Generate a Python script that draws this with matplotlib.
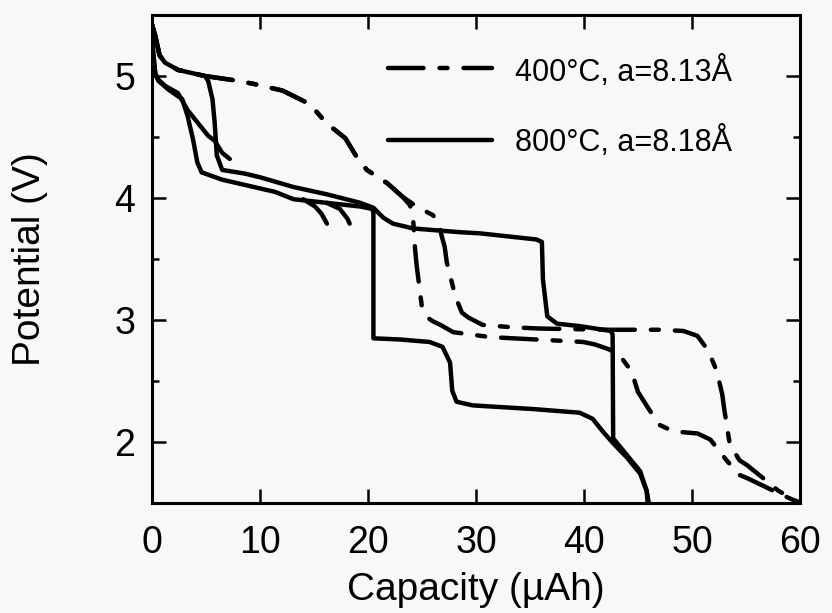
import numpy as np
import matplotlib
matplotlib.use("Agg")
import matplotlib.pyplot as plt
from matplotlib.ticker import MultipleLocator

plt.rcParams['font.family'] = ['Liberation Sans', 'DejaVu Sans']

# 400 C sample (dash-dot), two branches sharing the first part
d1_x = [0, 0.3, 0.7, 1.2, 2.4, 4.9, 8.0, 9.7, 12.1, 14.6, 16.2, 17.9, 19.0, 19.9, 21.8,
        23.2, 24.5, 26.0, 26.5, 26.85, 27.1, 27.3, 28.1, 28.7, 29.3, 30.6, 33.4, 35.9,
        42.4, 47.0, 49.2, 50.5, 51.5, 52.3, 52.8, 53.0, 53.5, 54.4, 55.1, 56.5, 58.0, 60]
d1_y = [5.42, 5.33, 5.17, 5.11, 5.05, 5.00, 4.96, 4.93, 4.88, 4.77, 4.61, 4.49, 4.33, 4.23, 4.12,
        4.01, 3.93, 3.86, 3.81, 3.68, 3.60, 3.47, 3.19, 3.06, 3.02, 2.96, 2.94, 2.93,
        2.92, 2.92, 2.91, 2.87, 2.75, 2.58, 2.39, 2.26, 1.98, 1.85, 1.81, 1.71, 1.60, 1.50]

d2_x = [0, 0.3, 0.7, 1.2, 2.4, 4.9, 8.0, 9.7, 12.1, 14.6, 16.2, 17.9, 19.0, 19.9, 21.8,
        23.2, 23.9, 24.2, 24.35, 24.5, 25.0, 25.5, 26.0, 26.7, 27.9, 31.3, 33.4, 37.8,
        39.9, 41.0, 42.3, 43.3, 44.4, 45.0, 46.0, 47.0, 48.2, 49.2, 50.5, 51.7, 53.2,
        54.4, 55.2, 56.5, 58.0, 60]
d2_y = [5.42, 5.33, 5.17, 5.11, 5.05, 5.00, 4.96, 4.93, 4.88, 4.77, 4.61, 4.49, 4.33, 4.23, 4.12,
        4.01, 3.94, 3.80, 3.59, 3.45, 3.10, 3.02, 2.99, 2.96, 2.90, 2.86, 2.85, 2.83,
        2.82, 2.80, 2.76, 2.71, 2.58, 2.41, 2.27, 2.14, 2.09, 2.08, 2.07, 2.02, 1.85,
        1.73, 1.70, 1.645, 1.58, 1.50]

# 800 C sample (solid)
s1_x = [0, 0.1, 0.3, 0.6, 1.5, 2.8, 3.3, 3.8, 4.2, 4.6, 6.5, 11.4, 13.1, 16.2, 19.3, 20.4,
        20.5, 20.5, 23.0, 25.7, 26.9, 27.6, 27.8, 28.2, 29.7, 35.3, 39.6, 40.8, 41.8,
        42.7, 44.0, 45.2, 45.8, 45.9]
s1_y = [5.42, 5.20, 5.02, 4.96, 4.89, 4.81, 4.67, 4.48, 4.29, 4.21, 4.15, 4.05, 3.99, 3.96, 3.93, 3.91,
        3.88, 2.85, 2.84, 2.82, 2.78, 2.65, 2.42, 2.33, 2.30, 2.27, 2.24, 2.19, 2.08,
        1.99, 1.87, 1.74, 1.60, 1.50]

s2_x = [0, 0.3, 0.7, 1.2, 2.4, 4.9, 5.2, 5.6, 5.8, 6.0, 6.5, 8.6, 10.0, 13.1, 16.2, 19.3,
        20.5, 21.4, 22.3, 24.2, 28.5, 30.4, 35.6, 36.1, 36.2, 36.6, 37.5, 39.6, 42.5,
        42.65, 42.7, 44.0, 45.2, 45.8, 46.0]
s2_y = [5.42, 5.33, 5.17, 5.11, 5.05, 5.00, 4.96, 4.81, 4.62, 4.35, 4.23, 4.20, 4.17, 4.09, 4.03, 3.96,
        3.92, 3.84, 3.79, 3.75, 3.72, 3.71, 3.66, 3.64, 3.33, 3.03, 2.97, 2.95, 2.91,
        2.88, 2.03, 1.89, 1.76, 1.60, 1.50]

s3_x = [0, 0.1, 0.3, 0.6, 1.2, 2.4, 3.3, 5.2, 5.8, 6.5, 7.2]
s3_y = [5.42, 5.20, 5.02, 4.97, 4.92, 4.86, 4.72, 4.51, 4.47, 4.37, 4.32]

t1_x = [14.0, 15.1, 15.7, 16.2]
t1_y = [3.99, 3.93, 3.87, 3.79]
t2_x = [16.2, 17.4, 18.1, 18.3]
t2_y = [3.96, 3.91, 3.83, 3.79]

labels = ['400°C, a=8.13Å', '800°C, a=8.18Å']

bg = '#f8f8f8'
fig = plt.figure(figsize=(8.32, 6.13), dpi=100, facecolor=bg)
ax = fig.add_axes([152/832, 110/613, 648/832, 488/613], facecolor=bg)

lw = 3.2
dd = (0, (8, 3.6, 1.8, 3.6))
kw_d = dict(color='black', lw=lw, linestyle=dd, dash_capstyle='round')
kw_s = dict(color='black', lw=lw, solid_capstyle='round', solid_joinstyle='round')

ax.plot(d1_x, d1_y, **kw_d)
ax.plot(d2_x, d2_y, **kw_d)
ax.plot(s1_x, s1_y, **kw_s)
ax.plot(s2_x, s2_y, **kw_s)
ax.plot(s3_x, s3_y, **kw_s)
ax.plot(t1_x, t1_y, **kw_s)
ax.plot(t2_x, t2_y, **kw_s)

# legend drawn by hand
ax.plot([0.364, 0.525], [0.891, 0.891], transform=ax.transAxes, **kw_d)
ax.plot([0.364, 0.525], [0.744, 0.744], transform=ax.transAxes, **kw_s)
ax.text(0.560, 0.884, labels[0], transform=ax.transAxes, fontsize=22, va='center', ha='left')
ax.text(0.560, 0.740, labels[1], transform=ax.transAxes, fontsize=22, va='center', ha='left')

ax.set_xlim(0, 60)
ax.set_ylim(1.5, 5.5)
ax.xaxis.set_major_locator(MultipleLocator(10))
ax.yaxis.set_major_locator(MultipleLocator(1))
ax.yaxis.set_minor_locator(MultipleLocator(0.5))
ax.set_yticks([2, 3, 4, 5])

for s in ax.spines.values():
    s.set_linewidth(2.2)
ax.tick_params(which='both', direction='in', top=True, right=True, width=1.8)
ax.tick_params(which='major', length=10)
ax.tick_params(which='minor', length=5)
ax.tick_params(axis='x', labelsize=27, pad=16)
ax.tick_params(axis='y', labelsize=27, pad=12)

ax.set_xlabel('Capacity (µAh)', fontsize=28, labelpad=8)
ax.set_ylabel('Potential (V)', fontsize=28, labelpad=48)

fig.savefig('out.png', dpi=100, facecolor=bg)
